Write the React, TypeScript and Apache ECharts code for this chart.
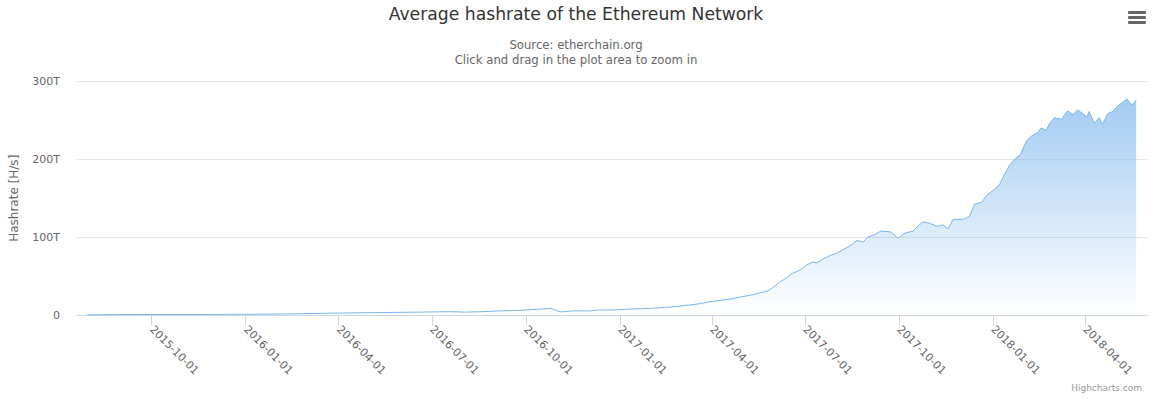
import React, { useEffect, useRef } from "react";
import * as echarts from "echarts";

const titleText = "Average hashrate of the Ethereum Network";
const subtitleLines = ["Source: etherchain.org", "Click and drag in the plot area to zoom in"];
const yAxisTitle = "Hashrate [H/s]";
const creditsText = "Highcharts.com";

const dates = [
  "2015-07-30", "2015-08-11", "2015-09-05", "2015-09-30", "2015-10-24", "2015-11-17", "2015-12-12",
  "2016-01-05", "2016-01-29", "2016-02-23", "2016-03-18", "2016-04-12", "2016-05-06", "2016-05-31",
  "2016-06-24", "2016-07-19", "2016-08-02", "2016-08-17", "2016-09-05", "2016-09-25", "2016-10-15",
  "2016-10-26", "2016-11-01", "2016-11-05", "2016-11-18", "2016-12-02", "2016-12-12", "2016-12-22",
  "2017-01-01", "2017-01-11", "2017-01-21", "2017-01-31", "2017-02-10", "2017-02-20", "2017-03-01",
  "2017-03-10", "2017-03-20", "2017-03-30", "2017-04-09", "2017-04-19", "2017-04-29", "2017-05-08",
  "2017-05-18", "2017-05-26", "2017-05-31", "2017-06-06", "2017-06-13", "2017-06-19", "2017-06-26",
  "2017-07-03", "2017-07-09", "2017-07-13", "2017-07-19", "2017-07-26", "2017-08-01", "2017-08-07",
  "2017-08-14", "2017-08-21", "2017-08-27", "2017-08-31", "2017-09-08", "2017-09-13", "2017-09-23",
  "2017-09-30", "2017-10-07", "2017-10-15", "2017-10-20", "2017-10-25", "2017-10-31", "2017-11-07",
  "2017-11-13", "2017-11-18", "2017-11-23", "2017-12-03", "2017-12-09", "2017-12-14", "2017-12-21",
  "2017-12-26", "2018-01-01", "2018-01-07", "2018-01-12", "2018-01-17", "2018-01-23", "2018-01-28",
  "2018-01-31", "2018-02-03", "2018-02-08", "2018-02-13", "2018-02-17", "2018-02-22", "2018-02-25",
  "2018-03-02", "2018-03-09", "2018-03-15", "2018-03-20", "2018-03-25", "2018-03-30", "2018-04-03",
  "2018-04-05", "2018-04-10", "2018-04-15", "2018-04-18", "2018-04-23", "2018-04-28", "2018-05-03",
  "2018-05-08", "2018-05-12", "2018-05-17", "2018-05-21",
];

// hashrate in TH/s
const hashrateT = [
  0.8, 1.0, 1.2, 1.3, 1.3, 1.3, 1.4,
  1.6, 1.8, 2.3, 2.8, 3.3, 3.7, 4.0,
  4.4, 4.9, 4.3, 4.8, 5.8, 6.6, 8.2,
  9.0, 5.8, 4.6, 6.0, 5.8, 7.0, 7.0,
  7.4, 8.2, 8.7, 9.2, 10.0, 10.9, 12.1,
  13.4, 15.1, 17.6, 19.4, 21.0, 23.7, 25.8,
  28.8, 31.7, 36, 42.5, 48, 54, 58,
  65, 68.5, 67.5, 72.5, 77, 79.5, 84,
  89, 96, 94, 100, 104, 108, 107,
  98.7, 105.5, 108, 115, 120, 118, 114,
  116, 111, 123, 123, 127, 142.5, 145,
  154, 160, 167, 180, 192, 201, 206,
  216, 224, 230, 233, 240, 237, 245,
  253, 251, 262, 257, 263, 258, 254,
  261, 246, 253, 244, 258, 261, 268,
  273, 277, 269, 276,
];

const xTickDates = [
  "2015-10-01", "2016-01-01", "2016-04-01", "2016-07-01", "2016-10-01", "2017-01-01",
  "2017-04-01", "2017-07-01", "2017-10-01", "2018-01-01", "2018-04-01",
];

const xMin = "2015-07-20";
const xMax = "2018-05-31T14:00:00Z";
const yMax = 300e12;
const yInterval = 100e12;

const pad = (n: number) => (n < 10 ? "0" + n : "" + n);
const fmtDate = (v: number) => {
  const d = new Date(v);
  return d.getUTCFullYear() + "-" + pad(d.getUTCMonth() + 1) + "-" + pad(d.getUTCDate());
};

export default function App() {
  const ref = useRef<HTMLDivElement>(null);
  useEffect(() => {
    document.body.style.margin = "0";
    if (!ref.current) return;
    const chart = echarts.init(ref.current, null, { renderer: "svg" });
    const font = "'Lucida Grande', 'Lucida Sans Unicode', 'DejaVu Sans', Arial, sans-serif";
    const seriesData = dates.map((d, i) => [Date.parse(d), hashrateT[i] * 1e12]);
    const tickValues = xTickDates.map((d) => Date.parse(d));
    chart.setOption({
      animation: false,
      textStyle: { fontFamily: font },
      title: [
        {
          text: titleText,
          left: "center",
          top: 0,
          textStyle: { fontSize: 17.2, fontWeight: "normal", color: "#333333", fontFamily: font },
        },
        {
          text: subtitleLines.join("\n"),
          left: "center",
          top: 32,
          textStyle: { fontSize: 11.7, fontWeight: "normal", color: "#666666", lineHeight: 15, fontFamily: font, align: "center" },
        },
      ],
      grid: { left: 77, right: 5, top: 81, bottom: 83.5, containLabel: false },
      xAxis: {
        type: "value",
        min: Date.parse(xMin),
        max: Date.parse(xMax),
        axisLine: { show: true, onZero: false, lineStyle: { color: "#ccd6eb", width: 1 } },
        axisTick: { show: true, length: 10, lineStyle: { color: "#ccd6eb" }, customValues: tickValues },
        axisLabel: {
          customValues: tickValues,
          rotate: -45,
          margin: 12,
          color: "#666666",
          fontSize: 11,
          fontFamily: font,
          formatter: (v: number) => fmtDate(v),
        },
        splitLine: { show: false },
      },
      yAxis: {
        type: "value",
        min: 0,
        max: yMax,
        interval: yInterval,
        name: yAxisTitle,
        nameLocation: "middle",
        nameGap: 57,
        nameTextStyle: { color: "#666666", fontSize: 12, fontFamily: font },
        axisLine: { show: false },
        axisTick: { show: false },
        axisLabel: {
          color: "#666666",
          fontSize: 11,
          margin: 17,
          fontFamily: font,
          formatter: (v: number) => (v === 0 ? "0" : v / 1e12 + "T"),
        },
        splitLine: { lineStyle: { color: "#e6e6e6", width: 1 } },
      },
      series: [
        {
          type: "line",
          data: seriesData,
          symbol: "none",
          lineStyle: { color: "#7cb5ec", width: 1 },
          itemStyle: { color: "#7cb5ec" },
          areaStyle: {
            color: new echarts.graphic.LinearGradient(0, 0, 0, 1, [
              { offset: 0, color: "rgba(124,181,236,1)" },
              { offset: 1, color: "rgba(124,181,236,0)" },
            ]),
          },
        },
      ],
      graphic: [
        { type: "rect", shape: { x: 1128, y: 11, width: 18, height: 3, r: 1 }, style: { fill: "#666666" } },
        { type: "rect", shape: { x: 1128, y: 16, width: 18, height: 3, r: 1 }, style: { fill: "#666666" } },
        { type: "rect", shape: { x: 1128, y: 21, width: 18, height: 3, r: 1 }, style: { fill: "#666666" } },
        {
          type: "text",
          right: 10,
          bottom: 7,
          style: { text: creditsText, fill: "#999999", fontSize: 9, fontFamily: font },
        },
      ],
    });
    return () => chart.dispose();
  }, []);
  return <div ref={ref} style={{ width: 1152, height: 399 }} />;
}
